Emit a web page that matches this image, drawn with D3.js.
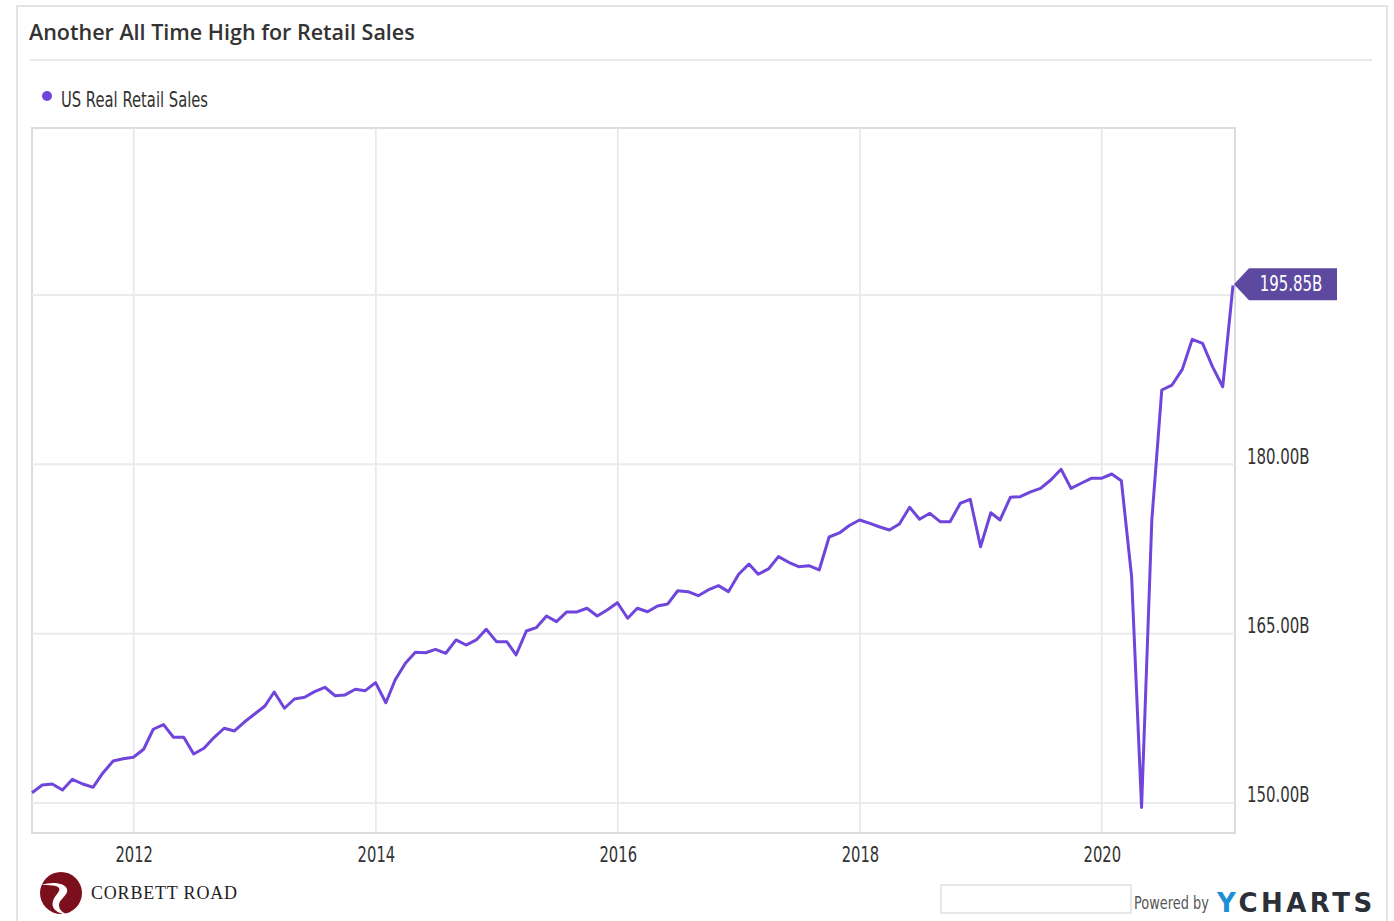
<!DOCTYPE html>
<html>
<head>
<meta charset="utf-8">
<script src="https://cdn.jsdelivr.net/npm/d3@7"></script>
<style>
  body { margin: 0; background: #fff; }
  text { font-family: "DejaVu Sans", sans-serif; }
</style>
</head>
<body>
<div id="chart"></div>
<script>
// Chart data (monthly, month-end, Feb 2011 .. Jan 2021), billions
const seriesName = 'US Real Retail Sales'
const startMonth = '2011-02'
const retailSales = [
  150.91, 151.59, 151.68, 151.15, 152.10, 151.68, 151.39, 152.66, 153.72, 153.92, 154.05,
  154.76, 156.53, 156.94, 155.82, 155.82, 154.34, 154.85, 155.82, 156.62, 156.38, 157.17, 157.88,
  158.59, 159.83, 158.39, 159.21, 159.36, 159.86, 160.25, 159.50, 159.57, 160.07, 159.95, 160.66,
  158.88, 160.89, 162.37, 163.35, 163.31, 163.61, 163.26, 164.44, 163.99, 164.44, 165.39, 164.29,
  164.29, 163.11, 165.23, 165.53, 166.56, 166.06, 166.92, 166.92, 167.25, 166.56, 167.09, 167.74,
  166.36, 167.25, 166.94, 167.45, 167.63, 168.80, 168.72, 168.36, 168.87, 169.25, 168.72, 170.26,
  171.17, 170.26, 170.73, 171.82, 171.32, 170.93, 171.02, 170.64, 173.56, 173.92, 174.58, 175.07,
  174.77, 174.47, 174.18, 174.71, 176.19, 175.13, 175.66, 174.92, 174.92, 176.55, 176.90, 172.70,
  175.71, 175.07, 177.08, 177.13, 177.55, 177.87, 178.61, 179.56, 177.87, 178.32, 178.76, 178.76,
  179.14, 178.55, 170.04, 149.60, 175.07, 186.58, 187.02, 188.41, 191.07, 190.72, 188.65, 186.87,
  195.85
]
const xTickYears = [2012, 2014, 2016, 2018, 2020]
const gridValues = [150, 165, 180, 195]
const yLabelValues = [150, 165, 180]

const width = 1394,
    height = 921
const plot = { left: 32, right: 1235, top: 128, bottom: 833 }
const lineColor = '#7045db'

const svg = d3.select('#chart')
    .append('svg')
    .attr('width', width)
    .attr('height', height)

// squeeze text horizontally to mimic the condensed face of the original
let narrow = (sel, factor) => {
    sel.each(function () {
        const w = this.getComputedTextLength()
        d3.select(this)
            .attr('textLength', w * factor)
            .attr('lengthAdjust', 'spacingAndGlyphs')
    })
}

// month-end dates
const parseMonth = d3.timeParse('%Y-%m')
const first = parseMonth(startMonth)
const data = retailSales.map((v, i) => {
    const monthStart = d3.timeMonth.offset(first, i)
    return { date: d3.timeDay.offset(d3.timeMonth.offset(monthStart, 1), -1), value: v }
})

const x = d3.scaleTime()
    .domain(d3.extent(data, d => d.date))
    .range([plot.left, plot.right - 2])

const y = d3.scaleLinear()
    .domain([147.34, 209.79])
    .range([plot.bottom, plot.top])

// outer frame
svg.append('rect')
    .attr('x', 17).attr('y', 6)
    .attr('width', 1370).attr('height', 930)
    .attr('fill', 'none')
    .attr('stroke', '#e3e3e3')
    .attr('stroke-width', 2)

// title
svg.append('text')
    .attr('x', 29).attr('y', 40)
    .style('font-family', '"Open Sans", sans-serif')
    .style('font-weight', 600)
    .style('font-size', '21.5px')
    .attr('fill', '#333')
    .text('Another All Time High for Retail Sales')

svg.append('line')
    .attr('x1', 30).attr('x2', 1372)
    .attr('y1', 60).attr('y2', 60)
    .attr('stroke', '#e8e8e8')
    .attr('stroke-width', 2)

// legend
svg.append('circle')
    .attr('cx', 47).attr('cy', 96).attr('r', 5)
    .attr('fill', lineColor)
svg.append('text')
    .attr('x', 61).attr('y', 107)
    .style('font-size', '20.5px')
    .attr('fill', '#333')
    .text(seriesName)
    .call(narrow, 0.72)

// plot frame
svg.append('rect')
    .attr('x', plot.left).attr('y', plot.top)
    .attr('width', plot.right - plot.left)
    .attr('height', plot.bottom - plot.top)
    .attr('fill', '#fff')
    .attr('stroke', '#dcdcdc')
    .attr('stroke-width', 2)

// vertical gridlines
const yearDates = xTickYears.map(yr => new Date(yr, 0, 1))
svg.append('g')
    .selectAll('line')
    .data(yearDates)
    .enter()
    .append('line')
    .attr('x1', d => x(d)).attr('x2', d => x(d))
    .attr('y1', plot.top).attr('y2', plot.bottom)
    .attr('stroke', '#e6e6e6')
    .attr('stroke-width', 1.5)

// horizontal gridlines
svg.append('g')
    .selectAll('line')
    .data(gridValues)
    .enter()
    .append('line')
    .attr('x1', plot.left).attr('x2', plot.right)
    .attr('y1', d => y(d)).attr('y2', d => y(d))
    .attr('stroke', '#ebebeb')
    .attr('stroke-width', 2)

// x axis
const xAxis = svg.append('g')
    .attr('transform', `translate(0, ${plot.bottom})`)
    .call(d3.axisBottom(x).tickValues(yearDates).tickSize(0).tickFormat(d3.timeFormat('%Y')))
xAxis.select('.domain').remove()
xAxis.selectAll('text')
    .attr('dy', 0)
    .attr('y', 29)
    .style('font-size', '20.5px')
    .style('font-family', '"DejaVu Sans", sans-serif')
    .attr('fill', '#333')
    .call(narrow, 0.72)

// y axis (right)
const yAxis = svg.append('g')
    .attr('transform', `translate(${plot.right}, 0)`)
    .call(d3.axisRight(y).tickValues(yLabelValues).tickSize(0).tickFormat(d => d.toFixed(2) + 'B'))
yAxis.select('.domain').remove()
yAxis.selectAll('text')
    .attr('x', 12)
    .attr('dy', -1)
    .style('font-size', '20.5px')
    .style('font-family', '"DejaVu Sans", sans-serif')
    .attr('fill', '#333')
    .call(narrow, 0.73)

// the line
const line = d3.line()
    .x(d => x(d.date))
    .y(d => y(d.value))

svg.append('path')
    .datum(data)
    .attr('d', line)
    .attr('fill', 'none')
    .attr('stroke', lineColor)
    .attr('stroke-width', 3)
    .attr('stroke-linejoin', 'round')

// last value flag
const last = data[data.length - 1]
const fx = x(last.date) + 1, fy = y(last.value) - 1
svg.append('path')
    .attr('d', `M${fx},${fy} L${fx + 15},${fy - 16} L${fx + 103},${fy - 16} L${fx + 103},${fy + 16} L${fx + 15},${fy + 16} Z`)
    .attr('fill', '#5d4aa0')
svg.append('text')
    .attr('x', fx + 57).attr('y', fy + 7)
    .attr('text-anchor', 'middle')
    .style('font-size', '20.5px')
    .attr('fill', '#fff')
    .text(last.value.toFixed(2) + 'B')
    .call(narrow, 0.73)

// footer: Corbett Road logo
const logo = svg.append('g').attr('transform', 'translate(61, 893)')
logo.append('circle').attr('r', 21).attr('fill', '#7b0f1b')
logo.append('path')
    .attr('d', 'M-20,-8 C-8,-12 4,-10 6,-4 C8,2 -2,6 -2,12 C-2,17 2,20 6,21 L2,21 C-6,19 -10,14 -8,8 C-6,2 0,-2 -2,-5 C-4,-8 -12,-8 -20,-8 Z')
    .attr('fill', '#fff')
svg.append('text')
    .attr('x', 91).attr('y', 899)
    .style('font-family', '"Liberation Serif", "DejaVu Serif", serif')
    .style('font-size', '18px')
    .style('letter-spacing', '0.8px')
    .attr('fill', '#222')
    .text('CORBETT ROAD')

// footer: powered by
svg.append('rect')
    .attr('x', 941).attr('y', 885)
    .attr('width', 190).attr('height', 28)
    .attr('fill', '#fff')
    .attr('stroke', '#cfcfcf')
svg.append('text')
    .attr('transform', 'translate(1134, 909) scale(0.76, 1)')
    .style('font-size', '17px')
    .attr('fill', '#555')
    .text('Powered by')
const yc = svg.append('text')
    .attr('x', 1217).attr('y', 912)
    .style('font-family', '"DejaVu Sans", sans-serif')
    .style('font-weight', 'bold')
    .style('font-size', '26px')
    .style('letter-spacing', '3.5px')
yc.append('tspan').attr('fill', '#1e8fd6').text('Y')
yc.append('tspan').attr('fill', '#2b2f38').text('CHARTS')
</script>
</body>
</html>
